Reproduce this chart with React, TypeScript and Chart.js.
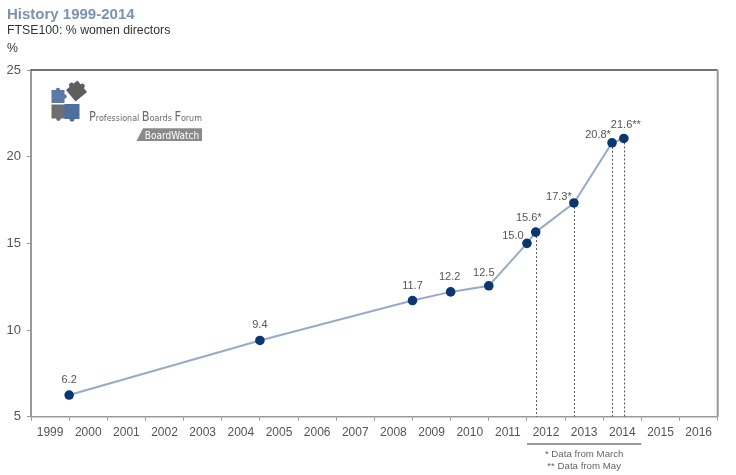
import React, { useEffect, useRef } from "react";
import { Chart, registerables } from "chart.js";

Chart.register(...registerables);

const titleText = "History 1999-2014";
const subtitleText = "FTSE100: % women directors";
const unitText = "%";
const footnotes = ["* Data from March", "** Data from May"];

const yearLabels = [
  "1999", "2000", "2001", "2002", "2003", "2004", "2005", "2006", "2007",
  "2008", "2009", "2010", "2011", "2012", "2013", "2014", "2015", "2016",
];
// position along the year axis (year boundary = start of that year)
const pointYears = [2000, 2005, 2009, 2010, 2011, 2012, 2012.23, 2013.23, 2014.23, 2014.54];
// plotted heights (last point is drawn lower than its label)
const pctValues = [6.25, 9.4, 11.7, 12.2, 12.55, 15.0, 15.65, 17.33, 20.8, 21.05];
const pointLabels = ["6.2", "9.4", "11.7", "12.2", "12.5", "15.0", "15.6*", "17.3*", "20.8*", "21.6**"];
const dropLinePoints = [6, 7, 8, 9];
const footnoteYears = ["2012", "2014"];

const labelOffsets: [number, number][] = [
  [0, -15], [0, -15], [0, -15], [-1, -15], [-5, -13],
  [-14, -7], [-7, -14], [-15, -5.5], [-14, -8], [2, -14],
];

const FONT = "Arial, 'Liberation Sans', Helvetica, sans-serif";
const NARROW = `'Liberation Sans Narrow', 'DejaVu Sans Condensed', ${FONT}`;

function drawPiece(ctx: CanvasRenderingContext2D, cx: number, cy: number, s: number, rot: number, color: string) {
  ctx.save();
  ctx.translate(cx, cy);
  ctx.rotate(rot);
  ctx.fillStyle = color;
  ctx.fillRect(-s / 2, -s / 2, s, s);
  ctx.beginPath();
  ctx.arc(s / 2, 0, s * 0.17, 0, Math.PI * 2);
  ctx.fill();
  ctx.beginPath();
  ctx.arc(0, -s / 2, s * 0.17, 0, Math.PI * 2);
  ctx.fill();
  ctx.restore();
}

const overlayPlugin = {
  id: "overlay",
  beforeDatasetsDraw(chart: any) {
    const { ctx, chartArea } = chart;
    const xs = chart.scales.x2;
    const ys = chart.scales.y;
    ctx.save();
    ctx.strokeStyle = "#555";
    ctx.lineWidth = 1;
    ctx.setLineDash([2, 2]);
    dropLinePoints.forEach((i) => {
      const px = Math.round(xs.getPixelForValue(pointYears[i])) + 0.5;
      ctx.beginPath();
      ctx.moveTo(px, ys.getPixelForValue(pctValues[i]));
      ctx.lineTo(px, chartArea.bottom);
      ctx.stroke();
    });
    ctx.restore();
  },
  afterDatasetsDraw(chart: any) {
    const { ctx } = chart;
    const xs = chart.scales.x2;
    const ys = chart.scales.y;
    ctx.save();
    ctx.fillStyle = "#555";
    ctx.font = `11px ${FONT}`;
    ctx.textAlign = "center";
    ctx.textBaseline = "middle";
    pointLabels.forEach((t, i) => {
      const px = xs.getPixelForValue(pointYears[i]);
      const py = ys.getPixelForValue(pctValues[i]);
      ctx.fillText(t, px + labelOffsets[i][0], py + labelOffsets[i][1]);
    });
    ctx.restore();
  },
  afterDraw(chart: any) {
    const { ctx, chartArea } = chart;
    ctx.save();
    // frame top and right
    ctx.strokeStyle = "#444";
    ctx.lineWidth = 1.5;
    ctx.beginPath();
    ctx.moveTo(chartArea.left, chartArea.top);
    ctx.lineTo(chartArea.right, chartArea.top);
    ctx.stroke();
    ctx.strokeStyle = "#999";
    ctx.lineWidth = 2;
    ctx.beginPath();
    ctx.moveTo(chartArea.right, chartArea.top);
    ctx.lineTo(chartArea.right, chartArea.bottom);
    ctx.stroke();

    // titles
    ctx.textAlign = "left";
    ctx.textBaseline = "alphabetic";
    ctx.fillStyle = "#7d91b1";
    ctx.font = `bold 15px ${FONT}`;
    ctx.fillText(titleText, 7, 18.5);
    ctx.fillStyle = "#333";
    ctx.font = `12.3px ${FONT}`;
    ctx.fillText(subtitleText, 7, 33.5);
    ctx.fillText(unitText, 7, 52);

    // footnote bracket
    const xc = chart.scales.x;
    const i0 = yearLabels.indexOf(footnoteYears[0]);
    const i1 = yearLabels.indexOf(footnoteYears[1]);
    const half = (xc.getPixelForValue(1) - xc.getPixelForValue(0)) / 2;
    const fx0 = xc.getPixelForValue(i0) - half;
    const fx1 = xc.getPixelForValue(i1) + half;
    ctx.strokeStyle = "#999";
    ctx.lineWidth = 2;
    ctx.beginPath();
    ctx.moveTo(fx0, 444);
    ctx.lineTo(fx1, 444);
    ctx.stroke();
    ctx.fillStyle = "#666";
    ctx.font = `9.7px ${FONT}`;
    ctx.textAlign = "center";
    ctx.fillText(footnotes[0], (fx0 + fx1) / 2, 457);
    ctx.fillText(footnotes[1], (fx0 + fx1) / 2, 469);

    // logo
    drawPiece(ctx, 58, 96.5, 13, 0, "#5b7aa5");
    drawPiece(ctx, 58.5, 111.5, 14, Math.PI / 2, "#6f6f6f");
    drawPiece(ctx, 72, 111.5, 15, Math.PI, "#4f6f9c");
    drawPiece(ctx, 76.5, 91, 15, -0.7, "#5e5e5e");
    ctx.fillStyle = "#6a6a6a";
    ctx.textAlign = "left";
    const segs: [string, number][] = [
      ["P", 13.5], ["rofessional ", 9.5], ["B", 13.5], ["oards ", 9.5], ["F", 13.5], ["orum", 9.5],
    ];
    let total = 0;
    segs.forEach(([t, sz]) => {
      ctx.font = `${sz}px ${NARROW}`;
      total += ctx.measureText(t).width;
    });
    const sx = 113 / total;
    ctx.save();
    ctx.translate(89, 120.5);
    ctx.scale(sx, 1);
    let x = 0;
    segs.forEach(([t, sz]) => {
      ctx.font = `${sz}px ${NARROW}`;
      ctx.fillText(t, x, 0);
      x += ctx.measureText(t).width;
    });
    ctx.restore();
    ctx.fillStyle = "#8a8a8a";
    ctx.beginPath();
    ctx.moveTo(143, 128.3);
    ctx.lineTo(202, 128.3);
    ctx.lineTo(202, 141);
    ctx.lineTo(136.5, 141);
    ctx.closePath();
    ctx.fill();
    ctx.fillStyle = "#fff";
    ctx.font = `10px ${NARROW}`;
    ctx.textAlign = "center";
    ctx.fillText("BoardWatch", 172, 138.5);
    ctx.restore();
  },
};

export default function App() {
  const ref = useRef<HTMLCanvasElement>(null);
  useEffect(() => {
    if (!ref.current) return;
    const chart = new Chart(ref.current, {
      type: "line",
      data: {
        datasets: [
          {
            data: pointYears.map((yr, i) => ({ x: yr, y: pctValues[i] })),
            xAxisID: "x2",
            yAxisID: "y",
            borderColor: "#97abc8",
            borderWidth: 2,
            pointRadius: 4.8,
            pointHoverRadius: 4.8,
            pointBackgroundColor: "#0c3672",
            pointBorderWidth: 0,
            tension: 0,
          },
        ],
      },
      options: {
        responsive: false,
        animation: false,
        events: [],
        layout: { padding: { top: 70, right: 18.3, bottom: 34.3, left: 0 } },
        plugins: { legend: { display: false }, tooltip: { enabled: false } },
        scales: {
          x: {
            type: "category",
            labels: yearLabels,
            position: "bottom",
            offset: true,
            afterFit: (s: any) => { s.height = 24; },
            grid: { offset: true, drawOnChartArea: false, tickLength: 4, color: "#999" },
            border: { display: true, color: "#999", width: 1.5 },
            ticks: {
              color: "#555",
              font: { size: 12, family: FONT },
              padding: 5,
              maxRotation: 0,
              autoSkip: false,
            },
          },
          x2: {
            type: "linear",
            display: false,
            min: 1999,
            max: 2017,
          },
          y: {
            type: "linear",
            min: 5,
            max: 25,
            afterFit: (s: any) => { s.width = 31; },
            grid: { drawOnChartArea: false, tickLength: 4, color: "#999" },
            border: { display: true, color: "#999", width: 2 },
            ticks: {
              stepSize: 5,
              color: "#555",
              font: { size: 13, family: FONT },
              padding: 6,
            },
          },
        },
      } as any,
      plugins: [overlayPlugin],
    });
    return () => chart.destroy();
  }, []);
  return (
    <div style={{ position: "absolute", left: 0, top: 0, width: 736, height: 475, background: "#fff" }}>
      <canvas ref={ref} width={736} height={475} style={{ display: "block" }} />
    </div>
  );
}
